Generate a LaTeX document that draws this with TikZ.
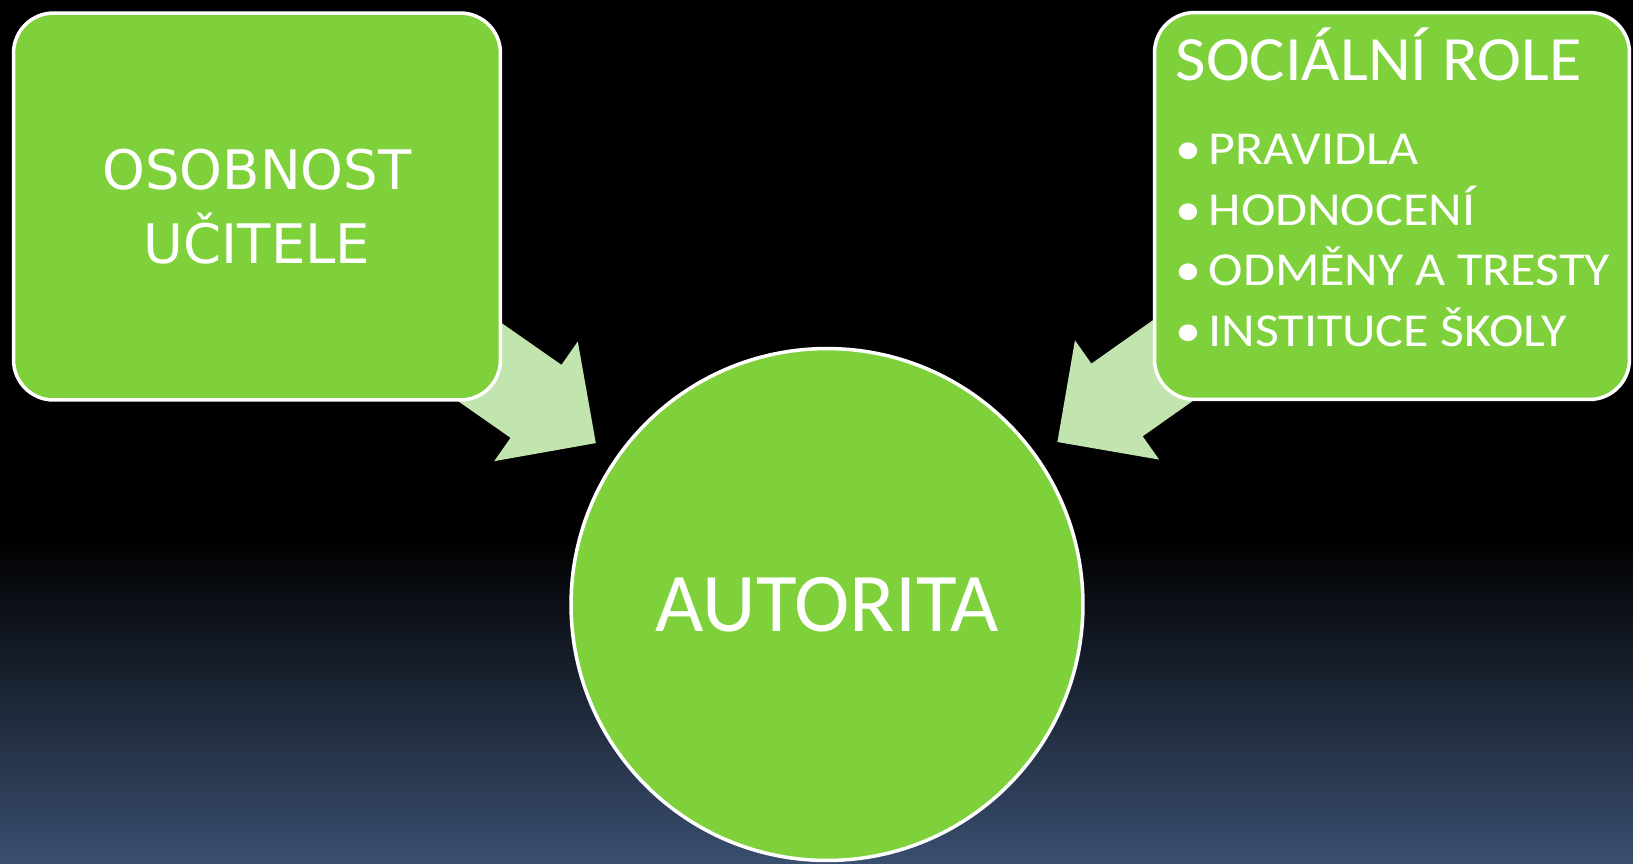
\documentclass[tikz,border=0pt]{standalone}
\usepackage{fontspec}
\setmainfont{Carlito}
\newfontfamily\dejavu{DejaVu Sans}
\newfontfamily\titlefont[FakeStretch=1.05]{Carlito}
\newfontfamily\itemfont[FakeStretch=1.1]{Carlito}
\usetikzlibrary{calc}
\definecolor{boxgreen}{HTML}{7FD13B}
\definecolor{arrowgreen}{HTML}{C2E5B0}
\definecolor{bgblue}{HTML}{3A4E6F}
\pgfdeclarelayer{back}
\pgfdeclarelayer{under}
\pgfsetlayers{back,under,main}
\newcommand{\blt}{\makebox[0.66cm][l]{•}}

\begin{document}
\begin{tikzpicture}[x=0.02cm,y=-0.02cm,
    greenbox/.style={draw=white,line width=2pt,fill=boxgreen,text=white,inner sep=0pt},
    roundbox/.style={greenbox,rounded corners=0.8cm,minimum height=7.74cm}]
   \useasboundingbox (0,0) rectangle (1633,863);
   \begin{pgfonlayer}{back}
     \fill[black] (0,0) rectangle (1633,863);
     \shade[top color=black,bottom color=bgblue] (0,540) rectangle (1633,863);
   \end{pgfonlayer}

   \node[greenbox,circle,minimum size=10.24cm,font=\fontsize{47.5}{57}\selectfont] (autorita) at (827,604.5) {AUTORITA};
   \node[roundbox,minimum width=9.74cm,align=center,font=\dejavu\fontsize{31}{42.5}\selectfont] (osobnost) at (257,206.5) {OSOBNOST\\UČITELE};
   \node[roundbox,minimum width=9.5cm] (role) at (1392,206) {};
   \node[anchor=base west,inner sep=0pt,text=white,font=\itemfont\fontsize{26.9}{34.6}\selectfont] (rolelist)
     at ($(role.north west)+(22.5,70.2)$)
     {\begin{tabular}[t]{@{}l@{}}
       {\titlefont\fontsize{35.9}{34.6}\selectfont SOCIÁLNÍ ROLE}\\[12.8pt]
       \blt PRAVIDLA\\ \blt HODNOCENÍ\\ \blt ODMĚNY A TRESTY\\ \blt INSTITUCE ŠKOLY
      \end{tabular}};

   % block arrows, tail hidden under the boxes
   \begin{pgfonlayer}{under}
   \foreach \src in {osobnost,role}
     \fill[arrowgreen] ($(autorita.center)!5.64cm!(\src.center)$)
       -- ($(autorita.center)!7.1cm!(\src.center)!1.46cm!90:(\src.center)$)
       -- ($(autorita.center)!7.1cm!(\src.center)!0.89cm!90:(\src.center)$)
       -- ($(autorita.center)!10.4cm!(\src.center)!0.89cm!90:(\src.center)$)
       -- ($(autorita.center)!10.4cm!(\src.center)!0.89cm!-90:(\src.center)$)
       -- ($(autorita.center)!7.1cm!(\src.center)!0.89cm!-90:(\src.center)$)
       -- ($(autorita.center)!7.1cm!(\src.center)!1.46cm!-90:(\src.center)$)
       -- cycle;
   \end{pgfonlayer}
\end{tikzpicture}
\end{document}
